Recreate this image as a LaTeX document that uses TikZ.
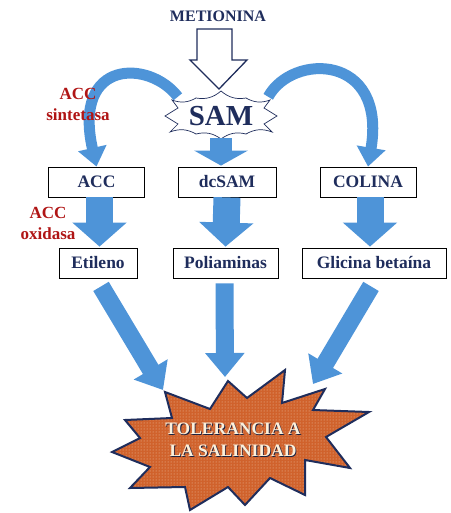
\documentclass[tikz,border=0pt]{standalone}
\usepackage{fontspec}
\setmainfont{Liberation Serif}
\usetikzlibrary{arrows.meta,patterns,calc}
\definecolor{navy}{HTML}{1F2D5C}
\definecolor{accred}{HTML}{B01515}
\definecolor{arrblue}{HTML}{4E94D8}
\definecolor{burst}{HTML}{D0622C}
\definecolor{cream}{HTML}{FBF0DC}
\begin{document}
\begin{tikzpicture}[x=1pt,y=-1pt,
  box/.style={draw=black, line width=0.8pt, fill=white, font=\bfseries\fontsize{17.5}{20}\selectfont,
    text=navy, minimum height=30pt, inner sep=0pt},
  lbl/.style={font=\bfseries\fontsize{17}{21}\selectfont, text=accred, align=center},
  blk/.style={arrblue, line width=27pt, -{Triangle[width=53pt,length=24pt]}, shorten >=1pt},
  curv/.style={arrblue, line width=11pt, -{Triangle[width=28pt,length=19pt]}},
  diag/.style={arrblue, line width=18pt, -{Triangle[width=38pt,length=24pt]}}]
\useasboundingbox (0,0) rectangle (450,513);

% title
\node[font=\bfseries\fontsize{16}{18}\selectfont, text=navy] (met) at (218,16) {METIONINA};

% SAM
\node[minimum width=112pt, minimum height=46pt, inner sep=0pt] (sam) at (221,115) {};
\draw[navy, line width=0.7pt, fill=white]
  (172,100) to[bend right=25] (196,98) to[bend right=25] (221,91) to[bend right=25] (246,98)
  to[bend right=25] (270,100) -- (264,108) -- (277,116) -- (264,124) -- (272,132)
  to[bend right=25] (246,134) to[bend right=25] (221,139) to[bend right=25] (196,134)
  to[bend right=25] (170,132) -- (178,124) -- (165,116) -- (178,108) -- cycle;
\node[font=\bfseries\fontsize{29}{32}\selectfont, text=navy] (samt) at (221,116) {SAM};

% hollow arrow METIONINA -> SAM
\draw[navy, line width=1.3pt, fill=white, line join=miter]
  (197,29) -- (232,29) -- (232,60) -- (247,60) -- (219,89) -- (190,60) -- (197,60) -- cycle;

% boxes
\node[box, minimum width=96pt] (acc) at (96.5,182) {ACC};
\node[box, minimum width=98pt] (dcsam) at (227,182) {dcSAM};
\node[box, minimum width=96pt] (colina) at (368,182) {COLINA};
\node[box, minimum width=78pt] (etileno) at (98,263) {Etileno};
\node[box, minimum width=105pt] (poli) at (225.5,263) {Poliaminas};
\node[box, minimum width=144pt] (glicina) at (374,263) {Glicina betaína};

% curved arrows from SAM
\draw[curv] ($(sam.north west)+(13,5)$) .. controls (150,60) and (72,58) .. (acc.north);
\draw[curv] ($(sam.north east)+(-9,5)$) .. controls (292,53) and (387,53) .. (colina.north);
% SAM -> dcSAM
\draw[arrblue, line width=22pt, -{Triangle[width=53pt,length=15pt]}, shorten >=1pt]
  (sam.south) -- (sam.south |- dcsam.north);

% straight block arrows
\draw[blk] ($(acc.south)+(3,0)$) -- ($(etileno.north)+(1.5,0)$);
\draw[blk] (dcsam.south) -- (poli.north);
\draw[blk] ($(colina.south)+(2,0)$) -- ($(glicina.north)+(-4,0)$);

% labels (on top of arrows)
\node[lbl] (sint) at (78,104) {ACC\\sintetasa};
\node[lbl] (oxid) at (48,223) {ACC\\oxidasa};

% starburst
\coordinate (tl) at (163,390);
\coordinate (tm) at (225,377);
\coordinate (tr) at (313,384);
\path[fill=burst] (165,392) -- (210,409) -- (228,381) -- (247,398) -- (285,370) -- (282,403)
  -- (325,389) -- (313,410) -- (369,412) -- (326,437) -- (350,468) -- (305,460)
  -- (305,495) -- (270,478) -- (245,505) -- (228,487) -- (190,510) -- (185,487)
  -- (130,488) -- (150,467) -- (112,452) -- (140,438) -- (125,420) -- (172,418) -- cycle;
\path[pattern=dots, pattern color=cream!70!burst] (165,392) -- (210,409) -- (228,381) -- (247,398) -- (285,370) -- (282,403)
  -- (325,389) -- (313,410) -- (369,412) -- (326,437) -- (350,468) -- (305,460)
  -- (305,495) -- (270,478) -- (245,505) -- (228,487) -- (190,510) -- (185,487)
  -- (130,488) -- (150,467) -- (112,452) -- (140,438) -- (125,420) -- (172,418) -- cycle;
\draw[navy, line width=2pt, line join=miter] (165,392) -- (210,409) -- (228,381) -- (247,398) -- (285,370) -- (282,403)
  -- (325,389) -- (313,410) -- (369,412) -- (326,437) -- (350,468) -- (305,460)
  -- (305,495) -- (270,478) -- (245,505) -- (228,487) -- (190,510) -- (185,487)
  -- (130,488) -- (150,467) -- (112,452) -- (140,438) -- (125,420) -- (172,418) -- cycle;
\node[font=\bfseries\fontsize{17.5}{22}\selectfont, text=navy!70!black, align=center] (tolsh) at (233.9,440.9)
  {TOLERANCIA A\\LA SALINIDAD};
\node[font=\bfseries\fontsize{17.5}{22}\selectfont, text=cream, align=center] (tol) at (233,440)
  {TOLERANCIA A\\LA SALINIDAD};

% diagonal arrows to burst
\draw[diag] ($(etileno.south)+(3,8)$) -- (tl);
\draw[diag] ($(poli.south)+(-1,5)$) -- (tm);
\draw[diag] ($(glicina.south)+(-3,8)$) -- (tr);
\end{tikzpicture}
\end{document}
